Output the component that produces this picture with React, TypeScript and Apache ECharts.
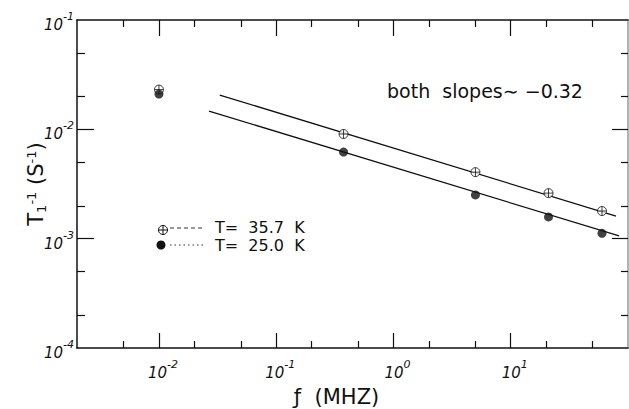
import React, { useEffect, useRef } from "react";
import * as echarts from "echarts";

// ---- data ----
const X_MIN = 0.002;
const X_MAX = 100;
const Y_MIN = 1e-4;
const Y_MAX = 1e-1;

const freqMHz = [0.01, 0.375, 5.0, 21, 60];
const rateT357 = [0.0231, 0.00906, 0.00406, 0.00261, 0.00179];
const rateT250 = [0.021, 0.0062, 0.00251, 0.00158, 0.00112];

const fitT357X = [0.033, 79];
const fitT357Y = [0.0206, 0.00161];
const fitT250X = [0.0267, 84];
const fitT250Y = [0.0147, 0.00106];

const xTickExps = [-2, -1, 0, 1];
const yTickExps = [-4, -3, -2, -1];
const minorMultipliers = [2, 5];

const legendLabels = ["T=  35.7  K", "T=  25.0  K"];
const annotation = "both  slopes∼ −0.32";

const FONT = "DejaVu Sans";
const lg = (v: number) => Math.log10(v);

function minorTicks(min: number, max: number) {
  const lmin = lg(min);
  const lmax = lg(max);
  const out: number[] = [];
  for (let e = Math.floor(lmin); e <= Math.ceil(lmax); e++) {
    for (const k of minorMultipliers) {
      const v = lg(k) + e;
      if (v > lmin + 1e-6 && v < lmax - 1e-6) out.push(v);
    }
  }
  return out;
}

const CROSS_CIRCLE =
  "path://M10,0A10,10,0,1,1,-10,0A10,10,0,1,1,10,0ZM-10,0L10,0M0,-10L0,10";

export default function App() {
  const ref = useRef<HTMLDivElement>(null);
  useEffect(() => {
    if (!ref.current) return;
    const chart = echarts.init(ref.current, undefined, { renderer: "svg" });

    const lxMin = lg(X_MIN), lxMax = lg(X_MAX);
    const lyMin = lg(Y_MIN), lyMax = lg(Y_MAX);
    const xMinor = minorTicks(X_MIN, X_MAX);
    const yMinor = minorTicks(Y_MIN, Y_MAX);
    const xMajorVals = xTickExps.filter((v) => v > lxMin && v < lxMax);
    const yMajorVals = yTickExps.filter((v) => v > lyMin && v < lyMax);

    const supRich = (leftPad: number) => ({
      b: { fontFamily: FONT, fontSize: 15, fontStyle: "italic", color: "#111", padding: [10, 0, 0, leftPad], lineHeight: 18 },
      s: { fontFamily: FONT, fontSize: 11, fontStyle: "italic", color: "#111", verticalAlign: "top", lineHeight: 13 },
    });
    const expFmt = (v: number) => `{b|10}{s|${Math.round(v)}}`;

    const base = (min: number, max: number, pos: string) => ({
      type: "value",
      min,
      max,
      position: pos,
      splitLine: { show: false },
      axisPointer: { show: false },
    });

    const labelAxis = (min: number, max: number, pos: string, vals: number[], margin: number, leftPad: number, lineColor: string) => ({
      ...base(min, max, pos),
      axisLine: { show: true, onZero: false, lineStyle: { color: lineColor, width: 1.5 } },
      axisTick: { show: false },
      axisLabel: { show: true, margin, customValues: vals, formatter: expFmt, rich: supRich(leftPad) },
    });
    const lineAxis = (min: number, max: number, pos: string, lineColor: string) => ({
      ...base(min, max, pos),
      axisLine: { show: true, onZero: false, lineStyle: { color: lineColor, width: 1.5 } },
      axisTick: { show: false },
      axisLabel: { show: false },
    });
    const tickAxis = (min: number, max: number, pos: string, vals: number[], len: number) => ({
      ...base(min, max, pos),
      axisLine: { show: false, onZero: false },
      axisTick: { show: true, inside: true, length: len, customValues: vals, lineStyle: { color: "#111", width: 1.2 } },
      axisLabel: { show: false },
    });

    const xAxes: any[] = [
      {
        ...labelAxis(lxMin, lxMax, "bottom", xTickExps, 11, 8, "#111"),
        name: "ƒ  (MHZ)",
        nameLocation: "middle",
        nameGap: 38,
        nameMoveOverlap: false,
        nameTextStyle: { fontFamily: FONT, fontSize: 21, color: "#111", padding: [0, 32, 0, 0] },
      },
      tickAxis(lxMin, lxMax, "bottom", xMajorVals, 15),
      tickAxis(lxMin, lxMax, "bottom", xMinor, 7),
      lineAxis(lxMin, lxMax, "top", "#111"),
      tickAxis(lxMin, lxMax, "top", xMajorVals, 16),
      tickAxis(lxMin, lxMax, "top", xMinor, 7),
    ];
    const yAxes: any[] = [
      {
        ...labelAxis(lyMin, lyMax, "left", yTickExps, 3, 0, "#111"),
        name: "{t|T}{sub|1}{sup|-1}{t| (S}{sup|-1}{t|)}",
        nameLocation: "middle",
        nameRotate: 90,
        nameGap: 29,
        nameMoveOverlap: false,
        nameTextStyle: {
          rich: {
            t: { fontFamily: FONT, fontSize: 21, color: "#111", padding: [6, 0, 8, 0], lineHeight: 23 },
            sup: { fontFamily: FONT, fontSize: 13, color: "#111", verticalAlign: "top", lineHeight: 14 },
            sub: { fontFamily: FONT, fontSize: 13, color: "#111", verticalAlign: "bottom", lineHeight: 14 },
          },
        },
      },
      tickAxis(lyMin, lyMax, "left", yMajorVals, 17),
      tickAxis(lyMin, lyMax, "left", yMinor, 8),
      lineAxis(lyMin, lyMax, "right", "#999"),
      tickAxis(lyMin, lyMax, "right", yMajorVals, 16),
      tickAxis(lyMin, lyMax, "right", yMinor, 7),
    ];

    const pts = (xs: number[], ys: number[]) => xs.map((x, i) => [lg(x), lg(ys[i])]);

    chart.setOption({
      animation: false,
      backgroundColor: "#fff",
      grid: { left: 77, right: 1, top: 20, bottom: 61, containLabel: false, outerBoundsMode: "none" },
      xAxis: xAxes,
      yAxis: yAxes,
      series: [
        {
          type: "line",
          data: pts(fitT357X, fitT357Y),
          showSymbol: false,
          symbol: "none",
          lineStyle: { color: "#111", width: 1.3 },
          silent: true,
        },
        {
          type: "line",
          data: pts(fitT250X, fitT250Y),
          showSymbol: false,
          symbol: "none",
          lineStyle: { color: "#111", width: 1.3 },
          silent: true,
        },
        {
          type: "scatter",
          name: "T = 35.7 K",
          data: pts(freqMHz, rateT357),
          symbol: CROSS_CIRCLE,
          symbolSize: 9,
          itemStyle: { color: "#fff", borderColor: "#111", borderWidth: 1 },
          z: 5,
        },
        {
          type: "scatter",
          name: "T = 25.0 K",
          data: pts(freqMHz, rateT250),
          symbol: "circle",
          symbolSize: 9,
          itemStyle: { color: "#111" },
          z: 5,
        },
      ],
      graphic: [
        {
          type: "text",
          x: 485,
          y: 91,
          style: { text: annotation, fontFamily: FONT, fontSize: 19, fill: "#111", align: "center", verticalAlign: "middle" },
        },
        {
          type: "group",
          left: 156,
          top: 223,
          children: [
            { type: "circle", shape: { cx: 5, cy: 5, r: 4.5 }, style: { fill: "#fff", stroke: "#111", lineWidth: 1 } },
            { type: "line", shape: { x1: 0.5, y1: 5, x2: 9.5, y2: 5 }, style: { stroke: "#111", lineWidth: 1 } },
            { type: "line", shape: { x1: 5, y1: 0.5, x2: 5, y2: 9.5 }, style: { stroke: "#111", lineWidth: 1 } },
          ],
        },
        {
          type: "line",
          shape: { x1: 170, y1: 228, x2: 202, y2: 228 },
          style: { stroke: "#333", lineWidth: 1, lineDash: [4, 3] },
        },
        {
          type: "text",
          x: 215,
          y: 227.5,
          style: { text: legendLabels[0], fontFamily: FONT, fontSize: 16, lineHeight: 16, fill: "#111", verticalAlign: "middle" },
        },
        { type: "circle", shape: { cx: 161, cy: 245, r: 4.5 }, style: { fill: "#111" } },
        {
          type: "line",
          shape: { x1: 170, y1: 245, x2: 206, y2: 245 },
          style: { stroke: "#333", lineWidth: 1, lineDash: [1.5, 3] },
        },
        {
          type: "text",
          x: 215,
          y: 245.5,
          style: { text: legendLabels[1], fontFamily: FONT, fontSize: 16, lineHeight: 16, fill: "#111", verticalAlign: "middle" },
        },
      ],
    });
    return () => chart.dispose();
  }, []);
  return (
    <div
      ref={ref}
      style={{ position: "fixed", left: 0, top: 0, width: 629, height: 409, background: "#fff" }}
    />
  );
}
